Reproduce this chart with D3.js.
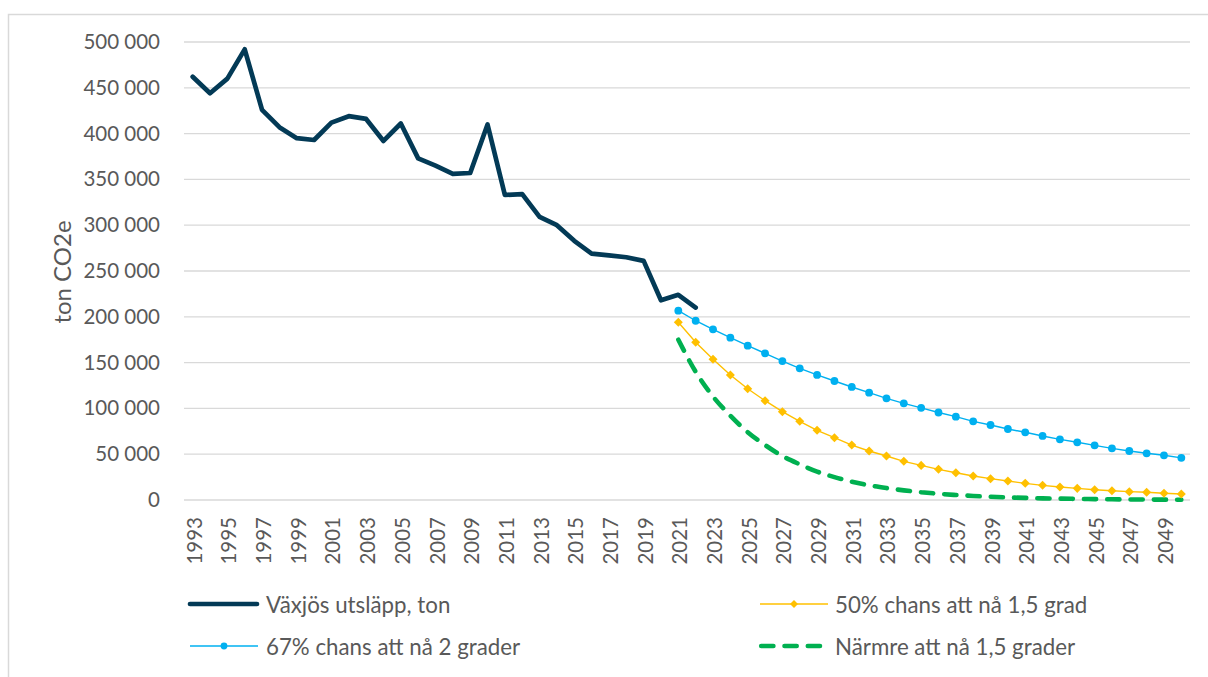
<!DOCTYPE html>
<html>
<head>
<meta charset="utf-8">
<script src="https://cdn.jsdelivr.net/npm/d3@7"></script>
<style>
  html, body { margin: 0; padding: 0; background: #fff; }
  svg { display: block; }
  text { font-family: Lato, "Open Sans", sans-serif; fill: #595959; }
</style>
</head>
<body>
<svg id="chart" width="1208" height="677"></svg>
<script>
// ---- data ----
const years = d3.range(1993, 2051);
const histYears = d3.range(1993, 2023);
const histValues = [462000, 444000, 460000, 492000, 426000, 407000, 395000, 393000, 412000, 419000,
  416000, 392000, 411000, 373000, 365000, 356000, 357000, 410000, 333000, 334000,
  309000, 300000, 283000, 269000, 267000, 265000, 261000, 218000, 224000, 210000];
const projYears = d3.range(2021, 2051);
const chance67Values = [206700, 195700, 186300, 177200, 168500, 160100, 151700, 143700, 136500, 129900,
  123400, 117200, 111000, 105500, 100600, 95500, 91000, 85900, 81900, 77500,
  73900, 69900, 66200, 63000, 59700, 56400, 53500, 51000, 48800, 46000];
const chance50Values = [194000, 172200, 153600, 136500, 121500, 108400, 96400, 85900, 76100, 68000,
  60000, 53500, 48000, 42200, 37800, 33500, 29800, 26200, 23300, 20700,
  18200, 16000, 14200, 12700, 11200, 10100, 9100, 8400, 7300, 6500];
const closerValues = [175000, 140000, 113000, 92000, 74000, 60000, 48000, 39000, 31000, 25000,
  20000, 16000, 13000, 10500, 8500, 6800, 5500, 4400, 3500, 2800,
  2300, 1800, 1500, 1200, 1000, 800, 600, 500, 400, 300];
const yTicks = [0, 50000, 100000, 150000, 200000, 250000, 300000, 350000, 400000, 450000, 500000];
const xTickYears = years.filter((y, i) => i % 2 === 0);
const seriesNames = ["Växjös utsläpp, ton", "50% chans att nå 1,5 grad", "67% chans att nå 2 grader", "Närmre att nå 1,5 grader"];
const yTitle = "ton CO2e";

// ---- setup ----
const svg = d3.select("#chart");
const W = 1208, H = 677;
const plot = { left: 184, right: 1190, top: 42, bottom: 500 };

const x = d3.scaleBand().domain(years).range([plot.left, plot.right]).padding(0);
const cx = yr => x(yr) + x.bandwidth() / 2;
const y = d3.scaleLinear().domain([0, 500000]).range([plot.bottom, plot.top]);

const navy = "#033A56", blue = "#00B0F0", yellow = "#FFC000", green = "#00B050";
const fmt = v => d3.format(",")(v).replace(/,/g, " ");

// chart border
svg.append("path")
  .attr("d", `M8.5,${H} L8.5,14.5 L${W},14.5`)
  .attr("fill", "none").attr("stroke", "#d9d9d9").attr("stroke-width", 1.5);

// gridlines
svg.append("g").selectAll("line").data(yTicks).join("line")
  .attr("x1", plot.left).attr("x2", plot.right)
  .attr("y1", d => y(d)).attr("y2", d => y(d))
  .attr("stroke", "#d9d9d9").attr("stroke-width", 1.3);

// y axis labels
const yAxis = svg.append("g").attr("transform", `translate(${plot.left},0)`)
  .call(d3.axisLeft(y).tickValues(yTicks).tickFormat(fmt).tickSize(0).tickPadding(24));
yAxis.select(".domain").remove();
yAxis.selectAll("text").attr("font-size", 20.5).attr("fill", "#595959")
  .attr("font-family", "Lato, sans-serif");

// x axis labels
const xAxis = svg.append("g").attr("transform", `translate(0,${plot.bottom})`)
  .call(d3.axisBottom(x).tickValues(xTickYears).tickSize(0));
xAxis.select(".domain").remove();
xAxis.selectAll("text")
  .attr("font-size", 20.5).attr("fill", "#595959").attr("font-family", "Lato, sans-serif")
  .attr("text-anchor", "end").attr("dominant-baseline", "central")
  .attr("transform", "translate(1,17) rotate(-90)")
  .attr("x", 0).attr("y", 0).attr("dy", null);

// y title
svg.append("text")
  .attr("transform", `translate(61,272) rotate(-90)`)
  .attr("text-anchor", "middle").attr("dominant-baseline", "central")
  .attr("font-size", 24).text(yTitle);

// lines
const line = d3.line().x(d => cx(d[0])).y(d => y(d[1]));
const histData = histYears.map((yr, i) => [yr, histValues[i]]);
const d67 = projYears.map((yr, i) => [yr, chance67Values[i]]);
const d50 = projYears.map((yr, i) => [yr, chance50Values[i]]);
const dCloser = projYears.map((yr, i) => [yr, closerValues[i]]);

svg.append("path").datum(dCloser).attr("d", line.curve(d3.curveMonotoneX))
  .attr("fill", "none").attr("stroke", green).attr("stroke-width", 4.6)
  .attr("stroke-linecap", "round").attr("stroke-dasharray", "12.2 11.1");
line.curve(d3.curveLinear);

svg.append("path").datum(d50).attr("d", line)
  .attr("fill", "none").attr("stroke", yellow).attr("stroke-width", 1.4);
const diamond = d3.symbol().type(d3.symbolDiamond2).size(52);
svg.append("g").selectAll("path").data(d50).join("path")
  .attr("d", diamond).attr("transform", d => `translate(${cx(d[0])},${y(d[1])})`)
  .attr("fill", yellow);

svg.append("path").datum(d67).attr("d", line)
  .attr("fill", "none").attr("stroke", blue).attr("stroke-width", 1.4);
svg.append("g").selectAll("circle").data(d67).join("circle")
  .attr("cx", d => cx(d[0])).attr("cy", d => y(d[1])).attr("r", 3.9)
  .attr("fill", blue);

svg.append("path").datum(histData).attr("d", line)
  .attr("fill", "none").attr("stroke", navy).attr("stroke-width", 4.7)
  .attr("stroke-linejoin", "round").attr("stroke-linecap", "round");

// legend
const leg = svg.append("g");
const legendDiamond = d3.symbol().type(d3.symbolDiamond2).size(40);
leg.append("line").attr("x1", 190).attr("x2", 257).attr("y1", 604).attr("y2", 604)
  .attr("stroke", navy).attr("stroke-width", 4.7).attr("stroke-linecap", "round");
leg.append("text").attr("x", 266).attr("y", 604).attr("dominant-baseline", "central")
  .attr("font-size", 22.3).text(seriesNames[0]);
leg.append("line").attr("x1", 760).attr("x2", 828).attr("y1", 604).attr("y2", 604)
  .attr("stroke", yellow).attr("stroke-width", 1.4);
leg.append("path").attr("d", legendDiamond).attr("transform", "translate(794,604)").attr("fill", yellow);
leg.append("text").attr("x", 835).attr("y", 604).attr("dominant-baseline", "central")
  .attr("font-size", 22.3).text(seriesNames[1]);
leg.append("line").attr("x1", 190).attr("x2", 258).attr("y1", 646).attr("y2", 646)
  .attr("stroke", blue).attr("stroke-width", 1.4);
leg.append("circle").attr("cx", 224).attr("cy", 646).attr("r", 3.4).attr("fill", blue);
leg.append("text").attr("x", 266).attr("y", 646).attr("dominant-baseline", "central")
  .attr("font-size", 22.3).text(seriesNames[2]);
leg.append("line").attr("x1", 761.2).attr("x2", 820).attr("y1", 646).attr("y2", 646)
  .attr("stroke", green).attr("stroke-width", 4.6).attr("stroke-linecap", "round")
  .attr("stroke-dasharray", "12.2 11.1");
leg.append("text").attr("x", 835).attr("y", 646).attr("dominant-baseline", "central")
  .attr("font-size", 22.3).text(seriesNames[3]);
</script>
</body>
</html>
